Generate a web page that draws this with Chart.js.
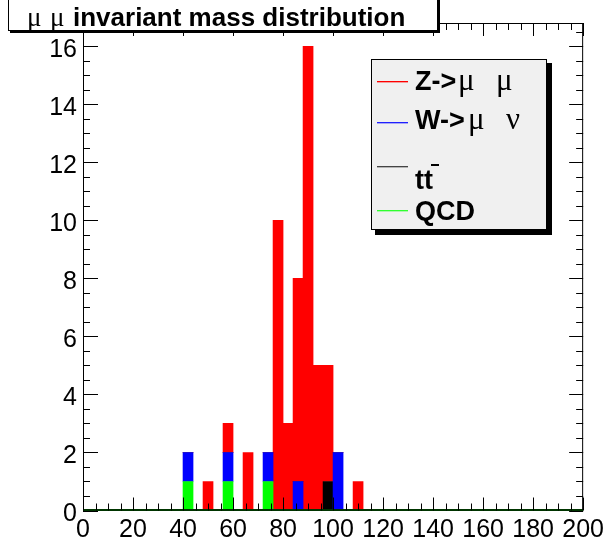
<!DOCTYPE html>
<html>
<head>
<meta charset="utf-8">
<title>mu mu invariant mass</title>
<script src="https://cdn.jsdelivr.net/npm/chart.js@4.4.0/dist/chart.umd.min.js"></script>
<style>
    html, body { margin: 0; padding: 0; background: #fff; }
</style>
</head>
<body>
<canvas id="mass" width="609" height="549"></canvas>
<script>
// lower edge of each 4 GeV bin, 0 .. 200
var binLow = [0, 4, 8, 12, 16, 20, 24, 28, 32, 36,
              40, 44, 48, 52, 56, 60, 64, 68, 72, 76,
              80, 84, 88, 92, 96, 100, 104, 108, 112, 116,
              120, 124, 128, 132, 136, 140, 144, 148, 152, 156,
              160, 164, 168, 172, 176, 180, 184, 188, 192, 196];

// entries per bin, one array per sample
var zmumu = [0, 0, 0, 0, 0, 0, 0, 0, 0, 0,
             0, 0, 1, 0, 1, 0, 2, 0, 0, 10,
             3, 7, 16, 5, 4, 0, 0, 1, 0, 0,
             0, 0, 0, 0, 0, 0, 0, 0, 0, 0,
             0, 0, 0, 0, 0, 0, 0, 0, 0, 0];
var wmunu = [0, 0, 0, 0, 0, 0, 0, 0, 0, 0,
             1, 0, 0, 0, 1, 0, 0, 0, 1, 0,
             0, 1, 0, 0, 0, 2, 0, 0, 0, 0,
             0, 0, 0, 0, 0, 0, 0, 0, 0, 0,
             0, 0, 0, 0, 0, 0, 0, 0, 0, 0];
var ttbar = [0, 0, 0, 0, 0, 0, 0, 0, 0, 0,
             0, 0, 0, 0, 0, 0, 0, 0, 0, 0,
             0, 0, 0, 0, 1, 0, 0, 0, 0, 0,
             0, 0, 0, 0, 0, 0, 0, 0, 0, 0,
             0, 0, 0, 0, 0, 0, 0, 0, 0, 0];
var qcd   = [0, 0, 0, 0, 0, 0, 0, 0, 0, 0,
             1, 0, 0, 0, 1, 0, 0, 0, 1, 0,
             0, 0, 0, 0, 0, 0, 0, 0, 0, 0,
             0, 0, 0, 0, 0, 0, 0, 0, 0, 0,
             0, 0, 0, 0, 0, 0, 0, 0, 0, 0];

var xTicks = [0, 20, 40, 60, 80, 100, 120, 140, 160, 180, 200];
var yTicks = [0, 2, 4, 6, 8, 10, 12, 14, 16];

var sans = '"Liberation Sans", Arial, Helvetica, sans-serif';
var serif = '"Liberation Serif", "Times New Roman", serif';

function line(ctx, x1, y1, x2, y2) {
    ctx.beginPath();
    ctx.moveTo(x1, y1);
    ctx.lineTo(x2, y2);
    ctx.stroke();
}

// frame with inward ticks on all four sides, like a ROOT canvas
var rootFrame = {
    id: 'rootFrame',
    afterDatasetsDraw: function(chart) {
        var ctx = chart.ctx, a = chart.chartArea;
        var xs = chart.scales.xm, ys = chart.scales.y;
        ctx.save();

        // empty bins drawn as a line at zero
        ctx.strokeStyle = '#006a00';
        ctx.lineWidth = 2;
        line(ctx, a.left, a.bottom - 0.5, a.right, a.bottom - 0.5);

        ctx.strokeStyle = '#000';
        ctx.lineWidth = 1;
        ctx.strokeRect(a.left + 0.5, a.top + 0.5, a.right - a.left - 1, a.bottom - a.top - 1);

        for (var v = 0; v <= 200; v += 5) {
            var px = Math.round(xs.getPixelForValue(v)) + 0.5;
            var len = (v % 20 === 0) ? 13 : 7;
            line(ctx, px, a.bottom, px, a.bottom - len);
            line(ctx, px, a.top, px, a.top + len);
        }
        for (var w = 0; w <= 16.5; w += 0.5) {
            var py = Math.round(ys.getPixelForValue(w)) + 0.5;
            var major = (w % 2 === 0);
            line(ctx, a.left, py, a.left + (major ? 15 : 7), py);
            line(ctx, a.right, py, a.right - (major ? 14 : 7), py);
        }
        ctx.restore();
    },
    afterDraw: function(chart) {
        var ctx = chart.ctx;
        ctx.save();

        // title pave
        ctx.fillStyle = '#000';
        ctx.fillRect(10, 0, 430, 33);
        ctx.fillStyle = '#fff';
        ctx.fillRect(8, -2, 430, 33);
        ctx.strokeStyle = '#000';
        ctx.lineWidth = 1;
        ctx.strokeRect(8.5, -1.5, 429, 32);
        ctx.fillStyle = '#000';
        ctx.textBaseline = 'alphabetic';
        ctx.font = '27px ' + serif;
        ctx.fillText('\u03bc', 27, 26);
        ctx.fillText('\u03bc', 50, 26);
        ctx.font = 'bold 26px ' + sans;
        ctx.fillText('invariant mass distribution', 73, 26);

        // legend box with drop shadow
        ctx.fillStyle = '#000';
        ctx.fillRect(375, 63, 177, 172);
        ctx.fillStyle = '#f0f0f0';
        ctx.fillRect(371, 59, 176, 171);
        ctx.strokeRect(371.5, 59.5, 175, 170);

        var rows = [
            { color: '#ff0000', ly: 81, base: 90, bold: 'Z->', greek: [['\u03bc', 458], ['\u03bc', 496]] },
            { color: '#2020ff', ly: 122, base: 129, bold: 'W->', greek: [['\u03bc', 468], ['\u03bd', 506]] },
            { color: '#444444', ly: 166, base: 189, bold: 'tt', greek: [] },
            { color: '#30ff30', ly: 210, base: 220, bold: 'QCD', greek: [] }
        ];
        rows.forEach(function(r) {
            // sample marker, with a soft lower edge
            ctx.fillStyle = r.color;
            ctx.fillRect(377, r.ly, 31, 1);
            ctx.globalAlpha = 0.35;
            ctx.fillRect(377, r.ly + 1, 31, 1);
            ctx.globalAlpha = 1;
            ctx.fillStyle = '#000';
            ctx.font = 'bold 27px ' + sans;
            ctx.fillText(r.bold, 415, r.base);
            ctx.font = '31px ' + serif;
            r.greek.forEach(function(g) { ctx.fillText(g[0], g[1], r.base); });
        });
        // bar over the second t
        ctx.fillRect(431, 164, 8, 2);
        ctx.restore();
    }
};

var ctx = document.getElementById('mass').getContext('2d');
new Chart(ctx, {
    type: 'bar',
    data: {
        labels: binLow,
        datasets: [
            { label: 'QCD', data: qcd, backgroundColor: '#00ff00' },
            { label: 'W->mu nu', data: wmunu, backgroundColor: '#0000ff' },
            { label: 'ttbar', data: ttbar, backgroundColor: '#000000' },
            { label: 'Z->mu mu', data: zmumu, backgroundColor: '#ff0000' }
        ]
    },
    options: {
        responsive: false,
        devicePixelRatio: 1,
        animation: false,
        layout: { padding: { left: 0, right: 23.5, top: 23, bottom: 0 } },
        datasets: { bar: { barPercentage: 1, categoryPercentage: 1, borderWidth: 0 } },
        plugins: { legend: { display: false }, tooltip: { enabled: false } },
        scales: {
            x: { type: 'category', display: false, stacked: true, offset: true },
            xm: {
                type: 'linear', position: 'bottom', min: 0, max: 200, offset: false,
                grid: { display: false, drawTicks: false, offset: false },
                border: { display: false },
                ticks: { stepSize: 20, autoSkip: false, maxRotation: 0, padding: 5, color: '#000',
                         font: { family: sans, size: 25 } },
                afterBuildTicks: function(s) { s.ticks = xTicks.map(function(v) { return { value: v }; }); },
                afterFit: function(s) { s.height = 38.5; }
            },
            y: {
                stacked: true, min: 0, max: 16.8,
                grid: { display: false, drawTicks: false },
                border: { display: false },
                ticks: { padding: 6, labelOffset: 4, color: '#000', font: { family: sans, size: 25 } },
                afterBuildTicks: function(s) { s.ticks = yTicks.map(function(v) { return { value: v }; }); },
                afterFit: function(s) { s.width = 83; }
            }
        }
    },
    plugins: [rootFrame]
});
</script>
</body>
</html>
